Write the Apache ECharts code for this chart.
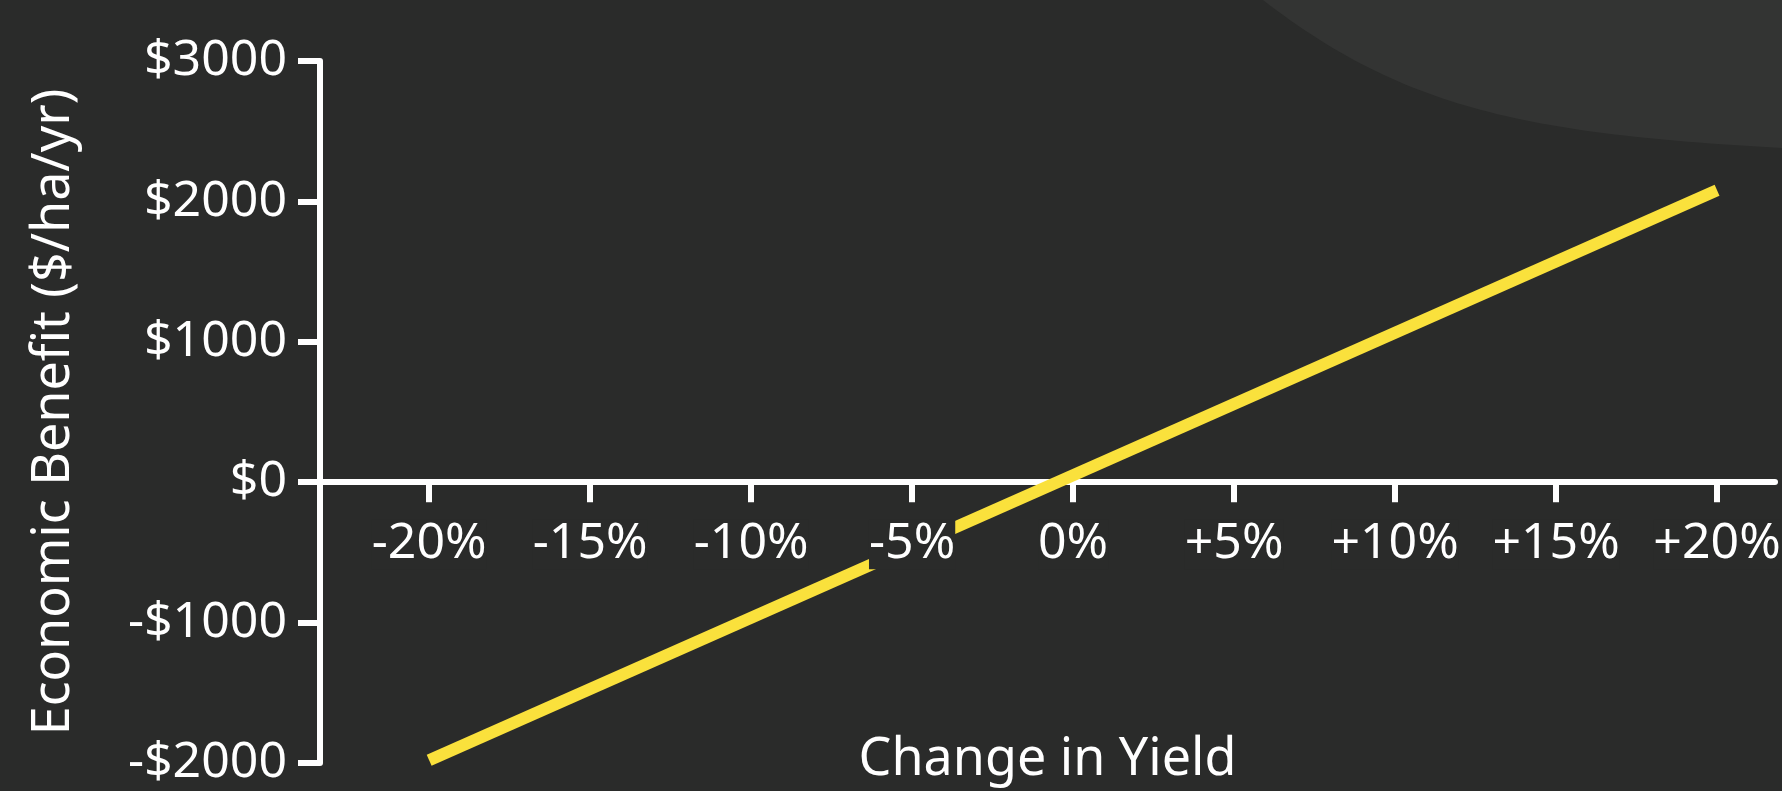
<!DOCTYPE html>
<html>
<head>
<meta charset="utf-8">
<script src="https://cdn.jsdelivr.net/npm/echarts@6/dist/echarts.min.js"></script>
<style>
html,body{margin:0;padding:0;background:#2a2b2a;}
#chart{width:1782px;height:791px;}
</style>
</head>
<body>
<div id="chart"></div>
<script>
// Data
const xTickValues = [-20, -15, -10, -5, 0, 5, 10, 15, 20];
const yieldChange = [-20, 20];
const economicBenefit = [-1980, 2080];
const xAxisTitle = 'Change in Yield';
const yAxisTitle = 'Economic Benefit ($/ha/yr)';

const BG = '#2a2b2a';
const FONT = 'Noto Sans';
const seriesData = yieldChange.map((x, i) => [x, economicBenefit[i]]);
const xFmt = v => (v > 0 ? '+' + v : '' + v) + '%';
const yFmt = v => (v < 0 ? '-$' + Math.abs(v) : '$' + v);

// decorative corner shape (cubic bezier outline)
function cornerShape() {
  const P = [[1263, 0], [1405, 110], [1530, 134], [1782, 148]];
  const pts = [];
  for (let i = 0; i <= 60; i++) {
    const t = i / 60, u = 1 - t;
    const a = u * u * u, b = 3 * u * u * t, c = 3 * u * t * t, d = t * t * t;
    pts.push([a * P[0][0] + b * P[1][0] + c * P[2][0] + d * P[3][0],
              a * P[0][1] + b * P[1][1] + c * P[2][1] + d * P[3][1]]);
  }
  pts.push([1782, 0]);
  return pts;
}

const GRID_TOP = 61, GRID_BOTTOM = 28, H = 791;
const yMin = -2000, yMax = 3000;
// distance from the grid's bottom edge up to the zero line, used to lift the label-only axis
const zeroLift = (H - GRID_TOP - GRID_BOTTOM) * (0 - yMin) / (yMax - yMin);

const chart = echarts.init(document.getElementById('chart'));
chart.setOption({
  backgroundColor: BG,
  animation: false,
  graphic: [{
    type: 'polygon',
    z: -10,
    silent: true,
    shape: { points: cornerShape() },
    style: { fill: '#333433' }
  }],
  grid: { left: 320, right: 7, top: GRID_TOP, bottom: GRID_BOTTOM, containLabel: false, outerBoundsMode: 'none' },
  xAxis: [{
    type: 'value',
    position: 'bottom',
    min: -23.39, max: 21.8,
    z: 0,
    axisLine: { onZero: true, lineStyle: { color: '#ffffff', width: 6 } },
    axisTick: { show: true, customValues: xTickValues, length: 20, lineStyle: { color: '#ffffff', width: 6 } },
    axisLabel: { show: false },
    splitLine: { show: false }
  }, {
    type: 'value',
    position: 'bottom',
    offset: -zeroLift,
    min: -23.39, max: 21.8,
    z: 10,
    axisLine: { show: false, onZero: false },
    axisTick: { show: false },
    splitLine: { show: false },
    axisLabel: {
      show: true,
      customValues: xTickValues,
      formatter: xFmt,
      color: '#ffffff',
      fontSize: 50,
      fontFamily: FONT,
      margin: 37,
      backgroundColor: BG
    },
    name: xAxisTitle,
    nameLocation: 'middle',
    nameGap: 252,
    nameMoveOverlap: false,
    nameTextStyle: { color: '#ffffff', fontSize: 52, fontFamily: FONT }
  }],
  yAxis: {
    type: 'value',
    min: yMin, max: yMax, interval: 1000,
    axisLine: { show: true, onZero: false, lineStyle: { color: '#ffffff', width: 6 } },
    axisTick: { show: true, length: 22, lineStyle: { color: '#ffffff', width: 6 } },
    axisLabel: { formatter: yFmt, color: '#ffffff', fontSize: 50, fontFamily: FONT, margin: 33 },
    splitLine: { show: false },
    name: yAxisTitle,
    nameLocation: 'middle',
    nameGap: 240,
    nameRotate: 90,
    nameMoveOverlap: false,
    nameTextStyle: { color: '#ffffff', fontSize: 52, fontFamily: FONT }
  },
  series: [{
    type: 'line',
    xAxisIndex: 0,
    data: seriesData,
    showSymbol: false,
    z: 5,
    lineStyle: { color: '#fae13c', width: 12, cap: 'butt' }
  }]
});
</script>
</body>
</html>
